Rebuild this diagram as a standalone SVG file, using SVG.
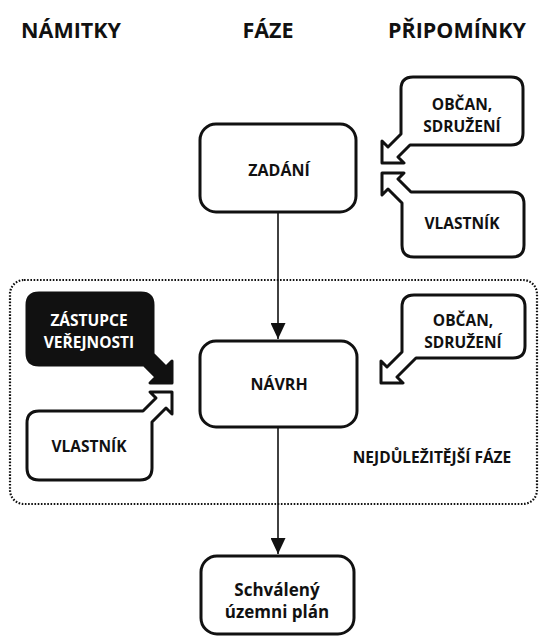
<svg xmlns="http://www.w3.org/2000/svg" width="539" height="641" viewBox="0 0 539 641">
<style>
text{font-family:"Open Sans","Noto Sans","DejaVu Sans",sans-serif;font-weight:700;text-anchor:middle;fill:#111}
.hdr{font-size:21.5px}
.lbl{font-size:15.5px}
.ph{font-size:16px}
.box{fill:#fff;stroke:#111;stroke-width:3;stroke-linejoin:round}
.blk{fill:#111;stroke:#111;stroke-width:3;stroke-linejoin:round}
.wt{fill:#fff}
.conn{stroke:#111;stroke-width:1.6;fill:none}
.dot{fill:none;stroke:#111;stroke-width:2.2;stroke-dasharray:1.6 1.6}
</style>
<defs>
<marker id="ah" viewBox="0 0 16 15" refX="16" refY="7.5" markerWidth="16" markerHeight="15" markerUnits="userSpaceOnUse" orient="auto">
<path d="M0,0 L16,7.5 L0,15 Z" fill="#111"/>
</marker>
</defs>
<g id="headers">
<text class="hdr" x="71" y="38">NÁMITKY</text>
<text class="hdr" x="268" y="38">FÁZE</text>
<text class="hdr" x="457" y="38">PŘIPOMÍNKY</text>
</g>
<rect id="phase-frame" class="dot" x="10" y="280" width="527" height="224" rx="14"/>
<g id="connectors">
<line class="conn" x1="278" y1="212" x2="278" y2="339" marker-end="url(#ah)"/>
<line class="conn" x1="278" y1="427" x2="278" y2="554" marker-end="url(#ah)"/>
</g>
<g id="zadani">
<rect class="box" x="200" y="124" width="156" height="88" rx="16"/>
<text class="ph" x="279" y="176">ZADÁNÍ</text>
</g>
<g id="navrh">
<rect class="box" x="200" y="341" width="157" height="86" rx="16"/>
<text class="ph" x="279" y="390">NÁVRH</text>
</g>
<g id="schvaleny">
<rect class="box" x="201" y="556" width="153" height="78" rx="16"/>
<text x="277" y="596" style="font-size:17px">Schválený</text>
<text x="277" y="618" style="font-size:17px">územni plán</text>
</g>
<g id="obcan-zadani">
<path class="box" d="M410,145 L398,157 L404,163 L382,163 L382,141 L388,147 L401,134 L401,89 Q401,77 413,77 L511,77 Q523,77 523,89 L523,133 Q523,145 511,145 Z"/>
<text class="lbl" x="462" y="110">OBČAN,</text>
<text class="lbl" x="462" y="132">SDRUŽENÍ</text>
</g>
<g id="vlastnik-zadani">
<path class="box" d="M411,192 L512,192 Q524,192 524,204 L524,245 Q524,257 512,257 L414,257 Q402,257 402,245 L402,203 L388,189 L382,195 L382,173 L404,173 L398,179 Z"/>
<text class="lbl" x="462" y="229">VLASTNÍK</text>
</g>
<g id="obcan-navrh">
<path class="box" d="M416,358 L397,377 L403,383 L381,383 L381,361 L387,367 L402,352 L402,307 Q402,295 414,295 L513,295 Q525,295 525,307 L525,346 Q525,358 513,358 Z"/>
<text class="lbl" x="463" y="326">OBČAN,</text>
<text class="lbl" x="463" y="348">SDRUŽENÍ</text>
</g>
<g id="zastupce">
<path class="blk" d="M144,365 L156,377 L150,383 L172,383 L172,361 L166,367 L153,354 L153,305 Q153,293 141,293 L39,293 Q27,293 27,305 L27,353 Q27,365 39,365 Z"/>
<text class="lbl wt" x="89" y="326">ZÁSTUPCE</text>
<text class="lbl wt" x="89" y="348">VEŘEJNOSTI</text>
</g>
<g id="vlastnik-navrh">
<path class="box" d="M143,411 L156,398 L150,392 L172,392 L172,414 L166,408 L152,422 L152,468 Q152,480 140,480 L39,480 Q27,480 27,468 L27,423 Q27,411 39,411 Z"/>
<text class="lbl" x="89" y="452">VLASTNÍK</text>
</g>
<text id="nejdulezitejsi" class="lbl" x="432" y="463">NEJDŮLEŽITĚJŠÍ FÁZE</text>
</svg>
